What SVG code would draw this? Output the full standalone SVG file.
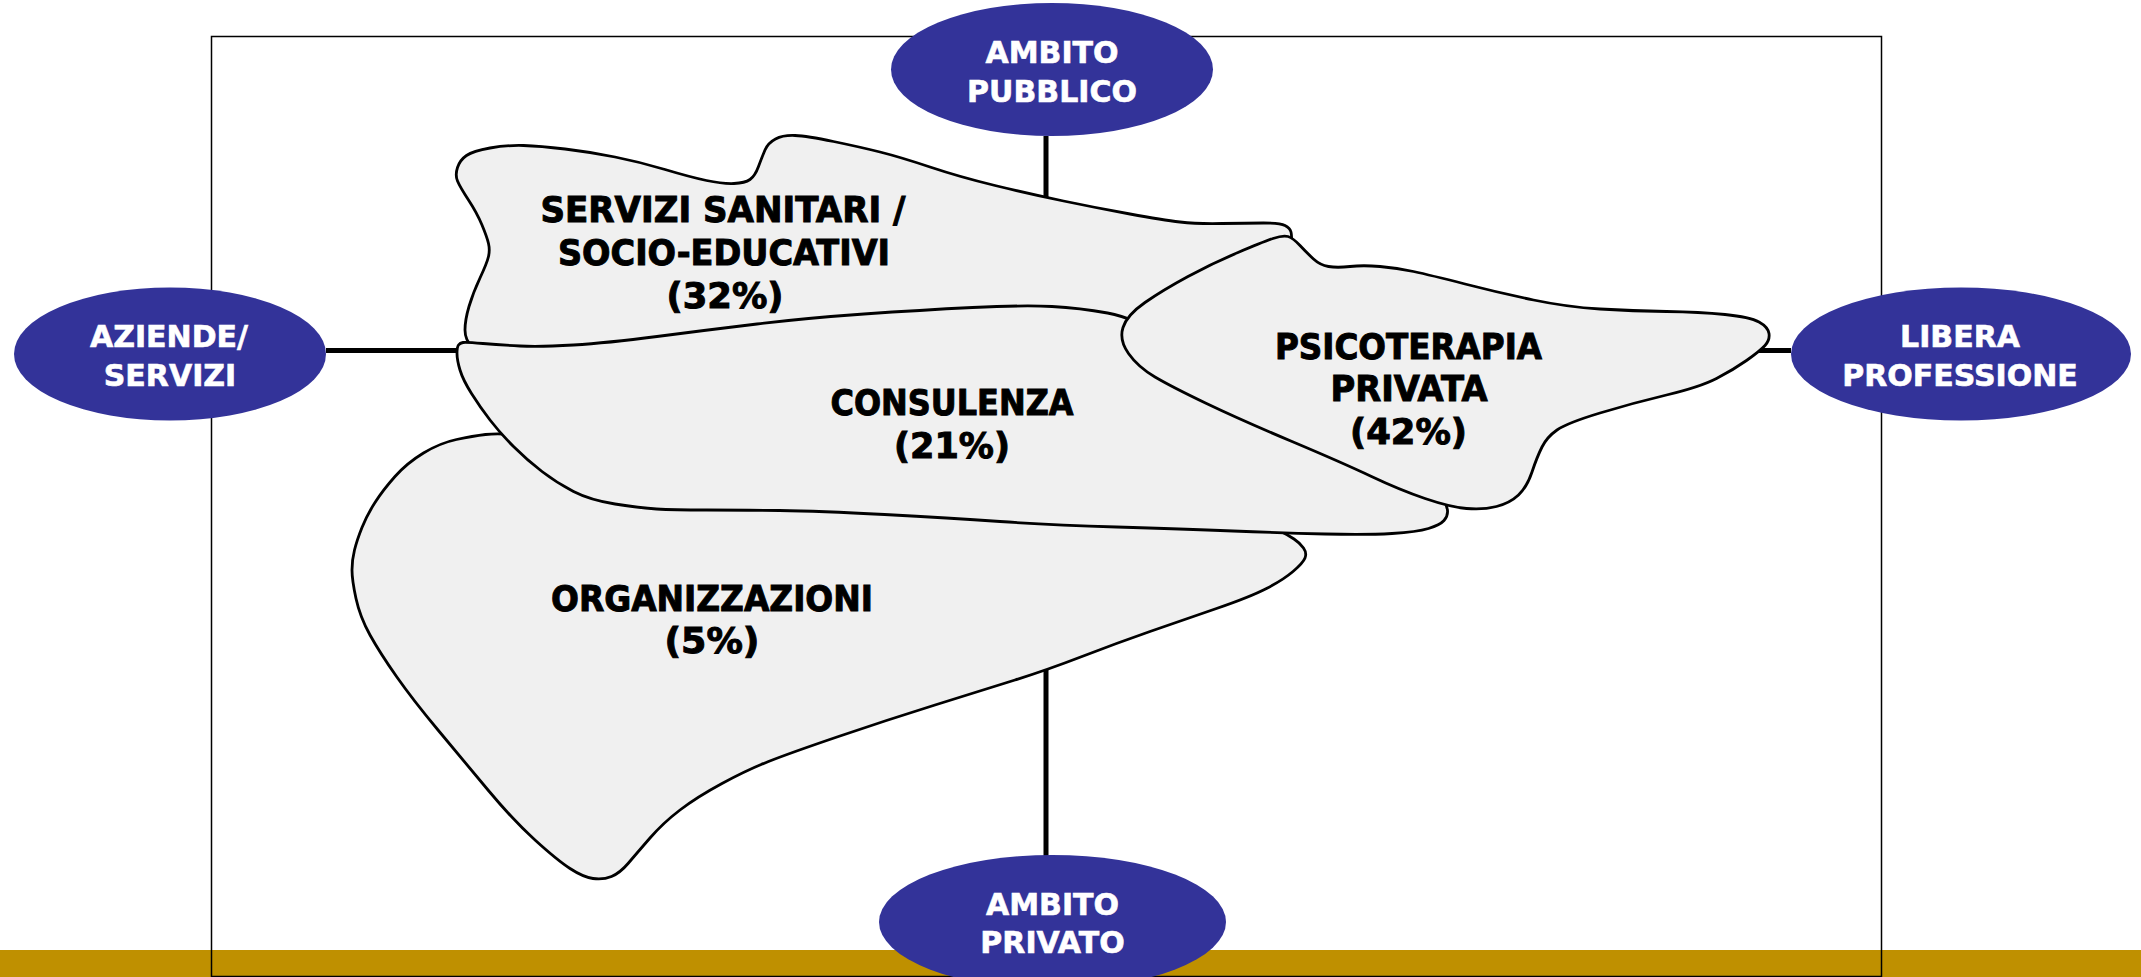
<svg xmlns="http://www.w3.org/2000/svg" width="2141" height="977" viewBox="0 0 2141 977">
<style>
.area{fill:#F0F0F0;stroke:#000;stroke-width:2.8;stroke-linejoin:round}
.conn{stroke:#000;stroke-width:5;fill:none}
.pole{fill:#333399}
.pt{font-family:"DejaVu Sans","Liberation Sans",sans-serif;font-weight:bold;font-size:30px;fill:#fff;stroke:#fff;stroke-width:0.6;text-anchor:middle}
.at{font-family:"DejaVu Sans","Liberation Sans",sans-serif;font-weight:bold;font-size:35px;fill:#000;stroke:#000;stroke-width:1;text-anchor:middle}
</style>
<rect x="0" y="0" width="2141" height="977" fill="#fff"/>
<rect x="0" y="950" width="2141" height="27" fill="#BF9000"/>
<rect x="211.5" y="36.5" width="1670" height="940" fill="none" stroke="#000" stroke-width="1.5"/>
<g id="connectors">
<line class="conn" x1="1046" y1="136" x2="1046" y2="856"/>
<line class="conn" x1="326" y1="350.5" x2="1791" y2="350.5"/>
</g>
<g id="servizi">
<path class="area" d="M472.5,347.5 Q465,340 465,330 Q465,320 469,306.5 Q473,293 480,278 Q487,263 488.5,256.5 Q490,250 488.5,243.5 Q487,237 482,225 Q477,213 468.5,200 Q460,187 457.5,181 Q455,175 457.5,167.5 Q460,160 466.5,155.5 Q473,151 490,148 Q507,145 523.5,145.5 Q540,146 565,149 Q590,152 615,157 Q640,162 665,169.5 Q690,177 706.5,180.5 Q723,184 734,183.5 Q745,183 750,179.5 Q755,176 758.5,166.5 Q762,157 765,150 Q768,143 775.5,139 Q783,135 795,135.5 Q807,136 833.5,141.5 Q860,147 880,152 Q900,157 930,167 Q960,177 995,185.5 Q1030,194 1063.5,201 Q1097,208 1130,214 Q1163,220 1180,222 Q1197,224 1222,223.5 Q1247,223 1263.5,223 Q1280,223 1285,225.5 Q1290,228 1291,232 Q1292,236 1291.5,248 Q1291,260 1245.5,295 Q1200,330 1163.5,331 Q1127,332 1063.5,329 Q1000,326 850,338 Q700,350 590,352.5 Q480,355 472.5,347.5 Z"/>
<text class="at"><tspan x="723" y="222" textLength="365" lengthAdjust="spacingAndGlyphs">SERVIZI SANITARI /</tspan><tspan x="724" y="265" textLength="332" lengthAdjust="spacingAndGlyphs">SOCIO-EDUCATIVI</tspan><tspan x="725" y="308" textLength="117" lengthAdjust="spacingAndGlyphs">(32%)</tspan></text>
</g>
<g id="organizzazioni">
<path class="area" d="M485.5,434.5 Q498,433 519,435 Q540,437 580,457.5 Q620,478 710,487.5 Q800,497 950,503.5 Q1100,510 1185,518 Q1270,526 1279,530.5 Q1288,535 1294,539 Q1300,543 1303.5,548 Q1307,553 1305,558 Q1303,563 1293,571.5 Q1283,580 1266.5,588.5 Q1250,597 1216.5,608.5 Q1183,620 1150,631.5 Q1117,643 1082,656.5 Q1047,670 1015,680 Q983,690 935,705 Q887,720 838.5,736.5 Q790,753 768.5,761.5 Q747,770 722,783.5 Q697,797 680,810 Q663,823 650,838 Q637,853 628.5,863 Q620,873 611.5,876.5 Q603,880 593,878.5 Q583,877 570,868.5 Q557,860 535,840 Q513,820 488,790 Q463,760 438,730 Q413,700 396.5,676.5 Q380,653 370,635 Q360,617 356,598.5 Q352,580 352,570 Q352,560 354.5,550 Q357,540 362,527.5 Q367,515 375,502.5 Q383,490 395,476.5 Q407,463 423.5,453 Q440,443 456.5,439.5 Q473,436 485.5,434.5 Z"/>
<text class="at"><tspan x="712" y="611" textLength="322" lengthAdjust="spacingAndGlyphs">ORGANIZZAZIONI</tspan><tspan x="712" y="653" textLength="95" lengthAdjust="spacingAndGlyphs">(5%)</tspan></text>
</g>
<g id="consulenza">
<path class="area" d="M463,342.5 Q466,342 483,343.5 Q500,345 520,346 Q540,347 573.5,345 Q607,343 657,336.5 Q707,330 757,324 Q807,318 864,314 Q921,310 972.5,307.5 Q1024,305 1052,306.5 Q1080,308 1107.5,313 Q1135,318 1167.5,339 Q1200,360 1290,410 Q1380,460 1410,477.5 Q1440,495 1443.5,500 Q1447,505 1447.5,510.5 Q1448,516 1444,520.5 Q1440,525 1428.5,528.5 Q1417,532 1392,533.5 Q1367,535 1325,534 Q1283,533 1233,531 Q1183,529 1116.5,527 Q1050,525 1000,521.5 Q950,518 884.5,514.5 Q819,511 779.5,510.5 Q740,510 706.5,510 Q673,510 656.5,509 Q640,508 615,504 Q590,500 573.5,491.5 Q557,483 542,471.5 Q527,460 513.5,446.5 Q500,433 490,420 Q480,407 471.5,393.5 Q463,380 460,370 Q457,360 457,353.5 Q457,347 458.5,345 Q460,343 463,342.5 Z"/>
<text class="at"><tspan x="952" y="415" textLength="243" lengthAdjust="spacingAndGlyphs">CONSULENZA</tspan><tspan x="952" y="458" textLength="116" lengthAdjust="spacingAndGlyphs">(21%)</tspan></text>
</g>
<g id="psicoterapia">
<path class="area" d="M1273,238.5 Q1283,235 1288,236.5 Q1293,238 1300,245.5 Q1307,253 1313.5,259 Q1320,265 1328.5,266.5 Q1337,268 1350,266.5 Q1363,265 1380,266.5 Q1397,268 1413.5,271.5 Q1430,275 1465,284 Q1500,293 1533.5,300 Q1567,307 1600,309 Q1633,311 1666.5,311.5 Q1700,312 1725,314.5 Q1750,317 1759,322 Q1768,327 1769,333.5 Q1770,340 1765,345.5 Q1760,351 1746.5,360.5 Q1733,370 1716.5,378.5 Q1700,387 1666.5,395 Q1633,403 1600,413 Q1567,423 1557,430 Q1547,437 1542,447 Q1537,457 1532,472 Q1527,487 1518.5,495 Q1510,503 1496.5,506.5 Q1483,510 1466.5,508.5 Q1450,507 1425,498.5 Q1400,490 1371.5,476.5 Q1343,463 1292,441.5 Q1241,420 1206.5,403.5 Q1172,387 1155,377 Q1138,367 1128.5,353.5 Q1119,340 1123,327.5 Q1127,315 1145,302.5 Q1163,290 1188,276.5 Q1213,263 1238,252.5 Q1263,242 1273,238.5 Z"/>
<text class="at"><tspan x="1408.5" y="358.5" textLength="267" lengthAdjust="spacingAndGlyphs">PSICOTERAPIA</tspan><tspan x="1409" y="401" textLength="157" lengthAdjust="spacingAndGlyphs">PRIVATA</tspan><tspan x="1408.5" y="443.5" textLength="117" lengthAdjust="spacingAndGlyphs">(42%)</tspan></text>
</g>
<g id="ambito-pubblico">
<ellipse class="pole" cx="1052" cy="69.5" rx="161" ry="66.5"/>
<text class="pt"><tspan x="1052" y="62.5">AMBITO</tspan><tspan x="1052" y="101.5">PUBBLICO</tspan></text>
</g>
<g id="aziende-servizi">
<ellipse class="pole" cx="170" cy="354" rx="156" ry="66.5"/>
<text class="pt"><tspan x="169" y="346.5">AZIENDE/</tspan><tspan x="170" y="385.5">SERVIZI</tspan></text>
</g>
<g id="libera-professione">
<ellipse class="pole" cx="1961" cy="354" rx="170" ry="66.5"/>
<text class="pt"><tspan x="1960" y="346.5">LIBERA</tspan><tspan x="1960" y="385.5">PROFESSIONE</tspan></text>
</g>
<g id="ambito-privato">
<ellipse class="pole" cx="1052.5" cy="922" rx="173.5" ry="67"/>
<text class="pt"><tspan x="1052.5" y="915">AMBITO</tspan><tspan x="1052.5" y="953">PRIVATO</tspan></text>
</g>
</svg>
